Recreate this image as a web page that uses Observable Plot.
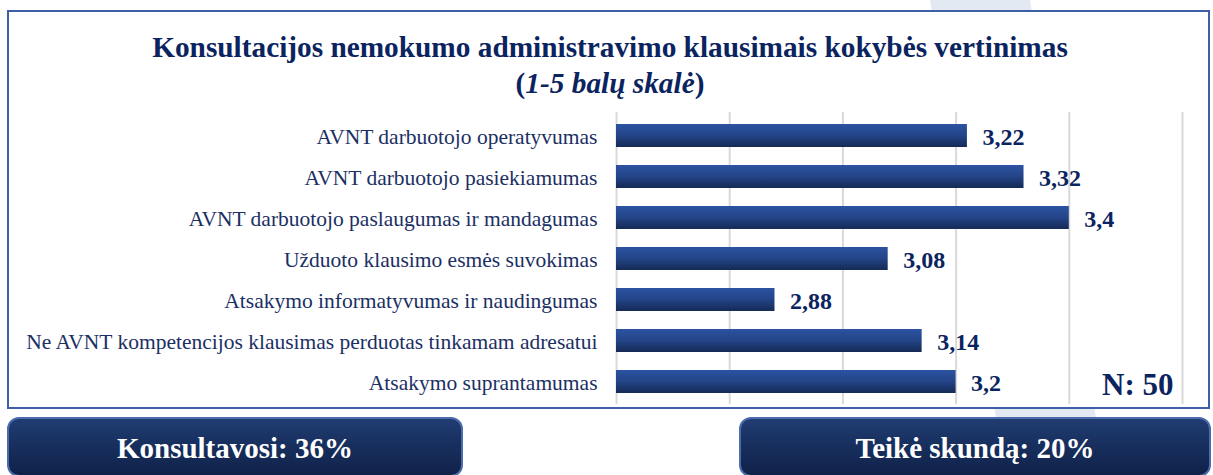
<!DOCTYPE html>
<html>
<head>
<meta charset="utf-8">
<script src="https://cdn.jsdelivr.net/npm/d3@7"></script>
<script src="https://cdn.jsdelivr.net/npm/@observablehq/plot@0.6"></script>
<style>
  html, body { margin: 0; padding: 0; background: #fff; }
  #page { position: relative; width: 1213px; height: 475px; overflow: hidden; font-family: "Liberation Serif", "Times New Roman", serif; }
  #bgstripe { position: absolute; left: 0; top: 0; }
  #frame { position: absolute; left: 7px; top: 10px; width: 1199px; height: 395px; border: 2px solid #3D5FA6; background: #fff; }
  #title { position: absolute; left: 0; width: 1220px; top: 29px; text-align: center; color: #0B2460; font-weight: bold; font-size: 29.3px; line-height: 36px; }
  #chart { position: absolute; left: 0; top: 112px; line-height: 0; }
  #chart svg text { font-family: "Liberation Serif", "Times New Roman", serif !important; }
  .box { position: absolute; top: 417px; height: 60px; border: 2px solid #4A6CAD; border-radius: 12px;
         background: linear-gradient(#203C72, #0F2148); color: #fff; font-weight: bold; font-size: 29px;
         text-align: center; line-height: 58px; box-sizing: border-box; }
</style>
</head>
<body>
<div id="page">
  <svg id="bgstripe" width="1213" height="475"><polygon points="930,0 1030,0 1105,475 1005,475" fill="#E3E9F2"/></svg>
  <div id="frame"></div>
  <div id="title">Konsultacijos nemokumo administravimo klausimais kokybės vertinimas<br>(<i>1-5 balų skalė</i>)</div>
  <div id="chart"></div>
  <div class="box" id="box1" style="left:7px; width:456px;"></div>
  <div class="box" id="box2" style="left:739px; width:472px;"></div>
</div>
<script>
const categories = [
  "AVNT darbuotojo operatyvumas",
  "AVNT darbuotojo pasiekiamumas",
  "AVNT darbuotojo paslaugumas ir mandagumas",
  "Užduoto klausimo esmės suvokimas",
  "Atsakymo informatyvumas ir naudingumas",
  "Ne AVNT kompetencijos klausimas perduotas tinkamam adresatui",
  "Atsakymo suprantamumas"
];
const values = [3.22, 3.32, 3.4, 3.08, 2.88, 3.14, 3.2];
const gridTicks = [2.6, 2.8, 3.0, 3.2, 3.4, 3.6];
const sampleLabel = "N: 50";
const boxLabels = ["Konsultavosi: 36%", "Teikė skundą: 20%"];

document.getElementById("box1").textContent = boxLabels[0];
document.getElementById("box2").textContent = boxLabels[1];

const data = categories.map((c, i) => ({category: c, value: values[i]}));
const navy = "#0B2460";
const serif = "Liberation Serif, Times New Roman, serif";

const chart = Plot.plot({
  width: 1213,
  height: 292,
  marginLeft: 616,
  marginRight: 31,
  marginTop: 0,
  marginBottom: 0,
  style: {fontFamily: serif, color: "#1B2F63", background: "transparent"},
  x: {domain: [2.6, 3.6], axis: null},
  y: {domain: categories, paddingInner: 0.447, paddingOuter: 0.2235, axis: null},
  marks: [
    Plot.ruleX(gridTicks, {stroke: "#D9D9D9", strokeWidth: 2}),
    Plot.barX(data, {x1: 2.6, x2: "value", y: "category", fill: "url(#barGrad)"}),
    Plot.axisY({tickSize: 0, tickPadding: 19, fontSize: 21.5, fontFamily: serif, label: null, dy: 1}),
    Plot.text(data, {x: "value", y: "category", text: d => String(d.value).replace(".", ","),
      textAnchor: "start", dx: 15, dy: 1, fontSize: 24, fontWeight: "bold", fontFamily: serif, fill: navy}),
    Plot.text([sampleLabel], {frameAnchor: "bottom-right", text: d => d, dx: -9, dy: -10,
      lineAnchor: "bottom", fontSize: 31, fontWeight: "bold", fontFamily: serif, fill: navy})
  ]
});

const ns = "http://www.w3.org/2000/svg";
const defs = document.createElementNS(ns, "defs");
const grad = document.createElementNS(ns, "linearGradient");
grad.setAttribute("id", "barGrad");
grad.setAttribute("x1", "0"); grad.setAttribute("y1", "0");
grad.setAttribute("x2", "0"); grad.setAttribute("y2", "1");
[["0%", "#2C53A2"], ["50%", "#234487"], ["100%", "#152A56"]].forEach(([o, c]) => {
  const s = document.createElementNS(ns, "stop");
  s.setAttribute("offset", o); s.setAttribute("stop-color", c);
  grad.appendChild(s);
});
defs.appendChild(grad);
chart.insertBefore(defs, chart.firstChild);
document.getElementById("chart").appendChild(chart);
</script>
</body>
</html>
